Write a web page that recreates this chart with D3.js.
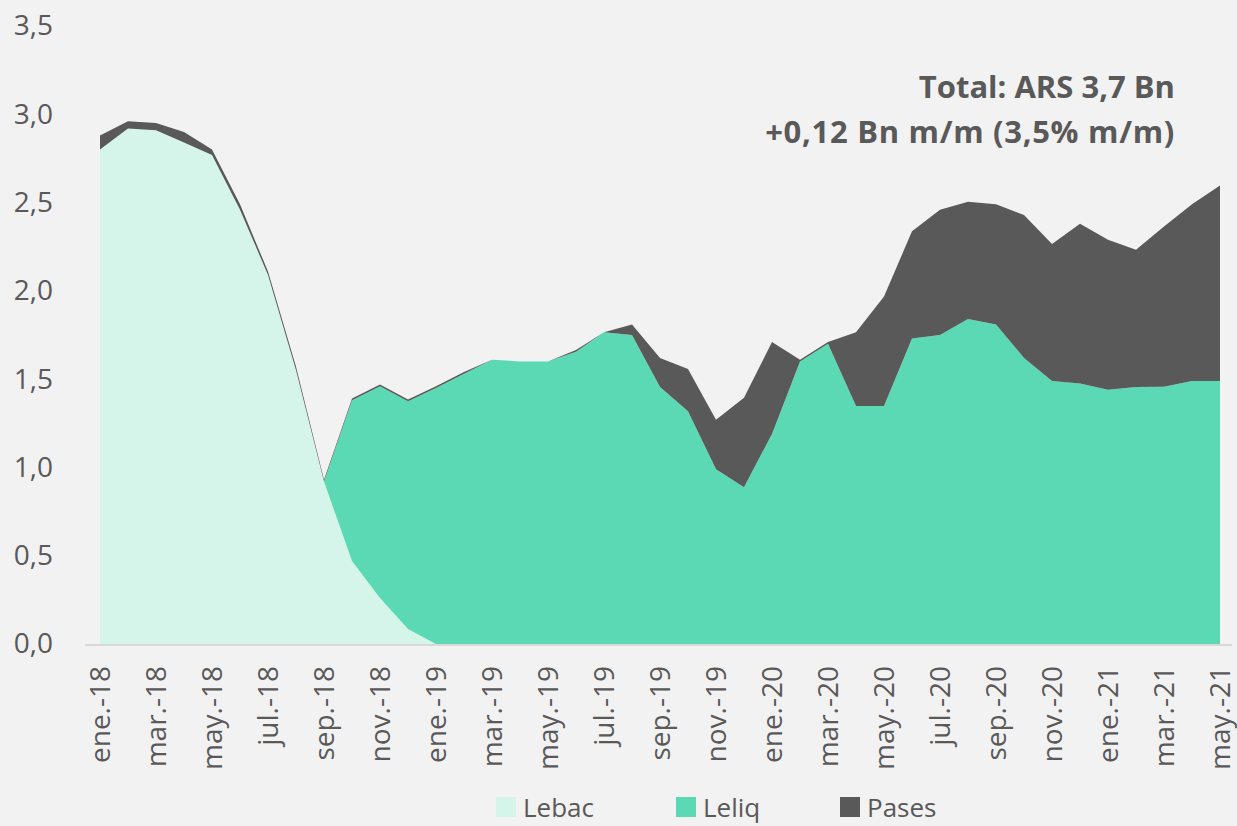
<!DOCTYPE html>
<html>
<head>
<meta charset="utf-8">
<script src="https://cdn.jsdelivr.net/npm/d3@7"></script>
<style>
  html, body { margin: 0; padding: 0; background: #F2F2F2; }
  svg { display: block; font-family: "Open Sans", sans-serif; }
</style>
</head>
<body>
<svg id="chart" width="1237" height="826"></svg>
<script>
const months = ["ene.-18","feb.-18","mar.-18","abr.-18","may.-18","jun.-18","jul.-18","ago.-18","sep.-18","oct.-18","nov.-18","dic.-18",
  "ene.-19","feb.-19","mar.-19","abr.-19","may.-19","jun.-19","jul.-19","ago.-19","sep.-19","oct.-19","nov.-19","dic.-19",
  "ene.-20","feb.-20","mar.-20","abr.-20","may.-20","jun.-20","jul.-20","ago.-20","sep.-20","oct.-20","nov.-20","dic.-20",
  "ene.-21","feb.-21","mar.-21","abr.-21","may.-21"];
const lebac = [2.80,2.92,2.91,2.84,2.77,2.46,2.09,1.55,0.92,0.47,0.26,0.085,0,
  0,0,0,0,0,0,0,0,0,0,0,0,0,0,0,0,0,0,0,0,0,0,0,0,0,0,0,0];
const leliq = [0,0,0,0,0,0,0,0,0,0.91,1.20,1.29,1.45,1.53,1.61,1.60,1.60,1.655,1.765,1.75,1.456,1.318,0.99,0.888,
  1.19,1.60,1.70,1.348,1.348,1.73,1.75,1.84,1.81,1.62,1.49,1.475,1.44,1.455,1.457,1.49,1.49];
const pases = [0.08,0.04,0.04,0.06,0.03,0.03,0.02,0.02,0.01,0.01,0.01,0.01,0.01,0.01,0,0,0,0.01,0,0.06,0.164,0.24,0.28,0.506,
  0.52,0.01,0.01,0.417,0.62,0.607,0.71,0.664,0.68,0.81,0.775,0.905,0.85,0.778,0.908,1.0,1.107];
const seriesNames = ["Lebac","Leliq","Pases"];
const seriesColors = ["#D5F5EA","#5BD9B4","#595959"];
const yTicks = [0,0.5,1,1.5,2,2.5,3,3.5];
const annotation = ["Total: ARS 3,7 Bn","+0,12 Bn m/m (3,5% m/m)"];

const rows = months.map((m,i) => ({i, Lebac: lebac[i], Leliq: leliq[i], Pases: pases[i]}));

const svg = d3.select("#chart");
const textColor = "#595959";

const x = d3.scaleLinear().domain([0, months.length - 1]).range([100, 1220]);
const y = d3.scaleLinear().domain([0, 3.5]).range([644, 26]);

const stack = d3.stack().keys(seriesNames);
const layers = stack(rows);
const area = d3.area()
  .x(d => x(d.data.i))
  .y0(d => y(d[0]))
  .y1(d => y(d[1]));

svg.append("g").selectAll("path")
  .data(layers)
  .join("path")
  .attr("d", area)
  .attr("fill", (d,k) => seriesColors[k]);

// baseline
svg.append("line")
  .attr("x1", 85).attr("x2", 1232)
  .attr("y1", y(0) + 1).attr("y2", y(0) + 1)
  .attr("stroke", "#D9D9D9").attr("stroke-width", 2);

// y axis
const yAxis = svg.append("g")
  .attr("transform", "translate(63,0)")
  .call(d3.axisLeft(y).tickValues(yTicks).tickSize(0).tickPadding(10)
    .tickFormat(d => d3.format(".1f")(d).replace(".", ",")));
yAxis.select(".domain").remove();
yAxis.selectAll("text")
  .attr("font-family", "Open Sans").attr("font-size", 28).attr("fill", textColor);

// x axis
const xTickIdx = months.map((m,i) => i).filter(i => i % 2 === 0);
const xAxis = svg.append("g")
  .attr("transform", `translate(0,${y(0)})`)
  .call(d3.axisBottom(x).tickValues(xTickIdx).tickSize(0).tickFormat(i => months[i]));
xAxis.select(".domain").remove();
xAxis.selectAll("text")
  .attr("font-family", "Open Sans").attr("font-size", 28).attr("fill", textColor)
  .attr("text-anchor", "end")
  .attr("transform", "rotate(-90)")
  .attr("x", -22).attr("y", 0).attr("dy", "0.35em");

// annotation
svg.append("g").selectAll("text")
  .data(annotation)
  .join("text")
  .attr("x", 1175)
  .attr("y", (d,k) => 98 + k * 45)
  .attr("text-anchor", "end")
  .attr("font-family", "Open Sans").attr("font-weight", "bold").attr("font-size", 31)
  .attr("letter-spacing", (d,k) => k === 1 ? 0.7 : 0)
  .attr("fill", textColor)
  .text(d => d);

// legend
const legendX = [496, 676, 840];
const lg = svg.append("g").selectAll("g")
  .data(seriesNames)
  .join("g")
  .attr("transform", (d,k) => `translate(${legendX[k]},0)`);
lg.append("rect").attr("x", 0).attr("y", 797).attr("width", 20).attr("height", 20)
  .attr("fill", (d,k) => seriesColors[k]);
lg.append("text").attr("x", 27).attr("y", 817)
  .attr("font-family", "Open Sans").attr("font-size", 26).attr("fill", textColor)
  .text(d => d);
</script>
</body>
</html>
